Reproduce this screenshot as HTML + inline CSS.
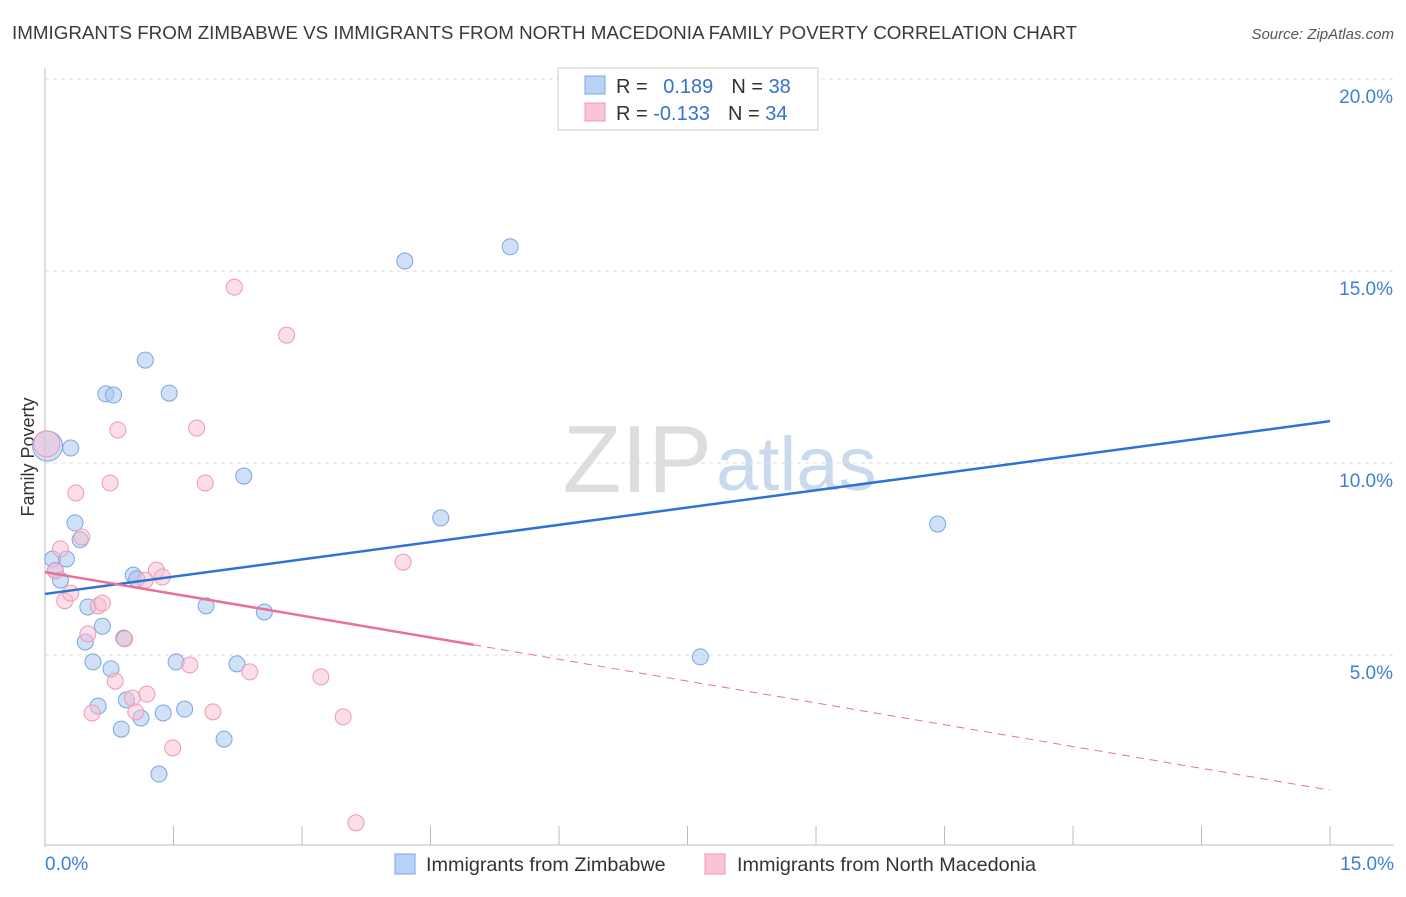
<!DOCTYPE html>
<html><head><meta charset="utf-8"><style>
body{margin:0;background:#fff;font-family:"Liberation Sans",sans-serif;}
svg text{font-family:"Liberation Sans",sans-serif;}
</style></head><body>
<svg width="1406" height="892">
<text x="12" y="39" font-size="18.8" fill="#3a3a3a">IMMIGRANTS FROM ZIMBABWE VS IMMIGRANTS FROM NORTH MACEDONIA FAMILY POVERTY CORRELATION CHART</text>
<text x="1394" y="39" font-size="15" fill="#555" font-style="italic" text-anchor="end">Source: ZipAtlas.com</text>
<text x="712" y="492" font-size="96" fill="#ddd" font-family="Liberation Serif" text-anchor="end">ZIP</text>
<text x="716" y="490" font-size="76" fill="#c9d9ee">atlas</text>
<g id="grid"></g>
<g id="axes"></g>
<text transform="translate(34,457) rotate(-90)" font-size="18" fill="#333" text-anchor="middle">Family Poverty</text>
<g id="marks"></g>
<g>
<rect x="558" y="68" width="260" height="62" fill="#fff" stroke="#ccc"/>
<rect x="585" y="76" width="20" height="18" fill="#b8d3f5" stroke="#7aa6e0"/>
<rect x="585" y="103" width="20" height="18" fill="#f9c4d4" stroke="#ee9ab3"/>
<text x="616" y="93" font-size="20" fill="#333">R = <tspan fill="#3373cc" dx="10">0.189</tspan><tspan dx="18" fill="#333">N = </tspan><tspan fill="#3373cc">38</tspan></text>
<text x="616" y="120" font-size="20" fill="#333">R = <tspan fill="#3373cc">-0.133</tspan><tspan dx="18" fill="#333">N = </tspan><tspan fill="#3373cc">34</tspan></text>
</g>
<g>
<rect x="395" y="854" width="20" height="20" fill="#b8d3f5" stroke="#7aa6e0"/>
<text x="426" y="871" font-size="19.8" fill="#333">Immigrants from Zimbabwe</text>
<rect x="705" y="854" width="20" height="20" fill="#f9c4d4" stroke="#ee9ab3"/>
<text x="737" y="871" font-size="19.8" fill="#333">Immigrants from North Macedonia</text>
</g>
</svg>
<script>
const xTicks=[0,1.5,3,4.5,6,7.5,9,10.5,12,13.5,15];
const yTicks=[5,10,15,20];
const yTickLabels=["5.0%","10.0%","15.0%","20.0%"];
const zimX=[0.03,0.3,0.09,0.25,0.12,0.18,0.35,0.41,0.5,0.67,0.47,0.56,0.77,0.62,0.89,0.95,0.92,1.03,1.07,1.12,1.38,1.63,1.53,1.33,2.09,2.24,1.88,2.56,2.32,0.71,0.8,1.17,1.45,4.2,5.43,4.62,7.65,10.42];
const zimY=[10.44,10.39,7.5,7.5,7.2,6.95,8.44,8.0,6.25,5.75,5.34,4.82,4.64,3.67,3.07,3.83,5.44,7.08,6.98,3.36,3.49,3.59,4.82,1.9,2.81,4.77,6.28,6.12,9.66,11.8,11.77,12.68,11.82,15.26,15.63,8.57,4.95,8.41];
const macX=[0.02,0.12,0.18,0.23,0.3,0.36,0.43,0.5,0.55,0.62,0.67,0.76,0.82,0.85,0.93,1.02,1.06,1.19,1.17,1.3,1.37,1.49,1.69,1.77,1.87,1.96,2.21,2.39,2.82,3.22,3.48,3.63,4.18];
const macY=[10.5,7.19,7.76,6.41,6.61,9.22,8.07,5.55,3.49,6.28,6.35,9.48,4.32,10.86,5.42,3.88,3.52,3.98,6.95,7.21,7.03,2.58,4.74,10.91,9.48,3.52,14.58,4.56,13.33,4.43,3.39,0.63,7.42];
const zimTrend=[6.59,11.09];
const macTrend=[7.16,1.48];
const macSolidEnd=5;
const X=v=>45+v*85.67, Y=v=>847-v*38.4;
const NS="http://www.w3.org/2000/svg";
function mk(p,t,a){const e=document.createElementNS(NS,t);for(const k in a)e.setAttribute(k,a[k]);document.getElementById(p).appendChild(e);return e;}
yTicks.forEach((t,i)=>{
 const g=mk('grid','line',{x1:45,x2:1394,y1:Y(t),y2:Y(t),stroke:'#ddd','stroke-dasharray':'4,4'});
 
 
 const l=mk('grid','text',{x:1393,y:Y(t)+24,'font-size':19,fill:'#3f7fd6','text-anchor':'end'});l.textContent=yTickLabels[i];
 
 
});
mk('axes','line',{x1:45,x2:45,y1:68,y2:847,stroke:'#bbb'});
mk('axes','line',{x1:45,x2:1394,y1:845,y2:845,stroke:'#bbb'});
xTicks.forEach(t=>{const e=mk('axes','line',{x1:X(t),x2:X(t),y1:826,y2:845,stroke:'#bbb'});
 
 });
let a=mk('axes','text',{x:45,y:870,'font-size':19,fill:'#3f7fd6'});a.textContent='0.0%';


a=mk('axes','text',{x:1394,y:870,'font-size':19,fill:'#3f7fd6','text-anchor':'end'});a.textContent='15.0%';


zimX.forEach((x,i)=>{const c=mk('marks','circle',{cx:X(x),cy:Y(zimY[i]),r:i==0?15:8,fill:'rgba(170,200,240,0.55)',stroke:'#7aa6e0','stroke-width':1});
 
 });
macX.forEach((x,i)=>{const c=mk('marks','circle',{cx:X(x),cy:Y(macY[i]),r:i==0?13:8,fill:'rgba(248,190,210,0.5)',stroke:'#ee9ab3','stroke-width':1});
 
 });
let t=mk('marks','line',{x1:X(0),y1:Y(zimTrend[0]),x2:X(15),y2:Y(zimTrend[1]),stroke:'#2f72d6','stroke-width':2.5});


const my=macTrend[0]+(macTrend[1]-macTrend[0])*macSolidEnd/15;
t=mk('marks','line',{x1:X(0),y1:Y(macTrend[0]),x2:X(macSolidEnd),y2:Y(my),stroke:'#e8709a','stroke-width':2.5});


t=mk('marks','line',{x1:X(macSolidEnd),y1:Y(my),x2:X(15),y2:Y(macTrend[1]),stroke:'#e8709a','stroke-width':1,'stroke-dasharray':'8,6'});


</script>
</body></html>
